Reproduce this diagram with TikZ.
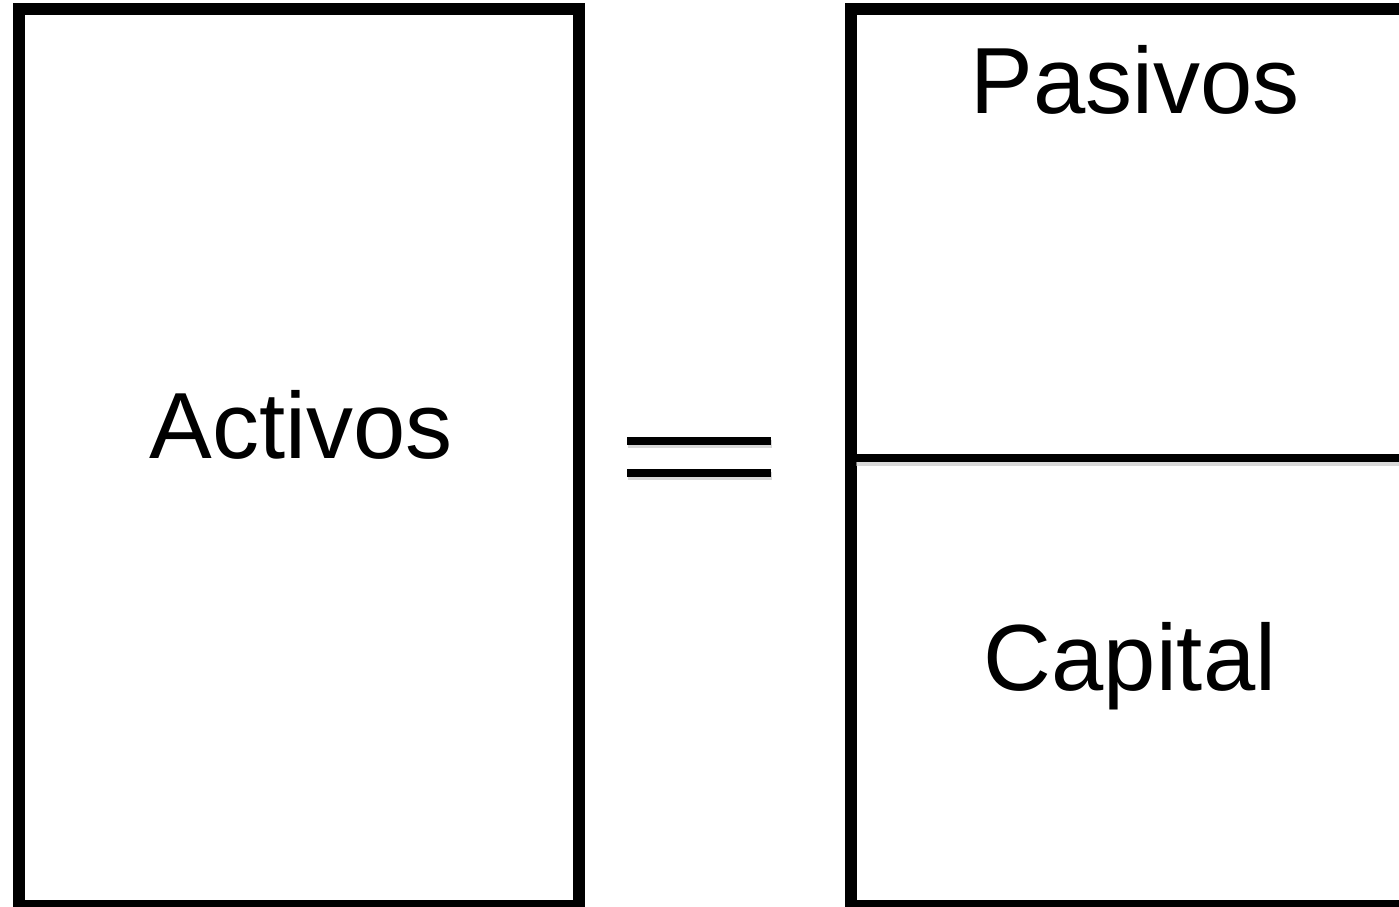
\documentclass[tikz,border=0pt]{standalone}
\usepackage{fontspec}
\setmainfont{Liberation Sans}
\usetikzlibrary{calc}
\begin{document}
\begin{tikzpicture}[x=1pt,y=-1pt,
  boxline/.style={line width=12pt,line join=miter},
  barline/.style={line width=8pt},
  shadowline/.style={line width=8pt,draw=black!25,opacity=0.6},
  lbl/.style={inner sep=0pt,anchor=base,font=\fontsize{94}{110}\selectfont}]
\clip (0,0) rectangle (1399,906);
\fill[white] (0,0) rectangle (1399,906);
% left box
\draw[boxline] (19,9) rectangle (578.5,906);
% right box
\draw[boxline] (1420,9) -- (851,9) -- (851,906) -- (1420,906);
% divider
\coordinate (dl) at (856,458);
\coordinate (dr) at (1410,458);
\draw[shadowline] ($(dl)+(0,4)$) -- ($(dr)+(0,4)$);
\draw[barline] (dl) -- (dr);
% equals sign
\coordinate (e1l) at (627,441);
\coordinate (e1r) at (771,441);
\coordinate (e2l) at (627,473);
\coordinate (e2r) at (771,473);
\draw[shadowline] ($(e1l)+(1,3)$) -- ($(e1r)+(1,3)$);
\draw[shadowline] ($(e2l)+(1,3)$) -- ($(e2r)+(1,3)$);
\draw[barline] (e1l) -- (e1r);
\draw[barline] (e2l) -- (e2r);
% labels
\node[lbl] (activos) at (301,458) {Activos};
\node[lbl] (pasivos) at (1135,113) {Pasivos};
\node[lbl] (capital) at (1130,690) {Capital};
\end{tikzpicture}
\end{document}
